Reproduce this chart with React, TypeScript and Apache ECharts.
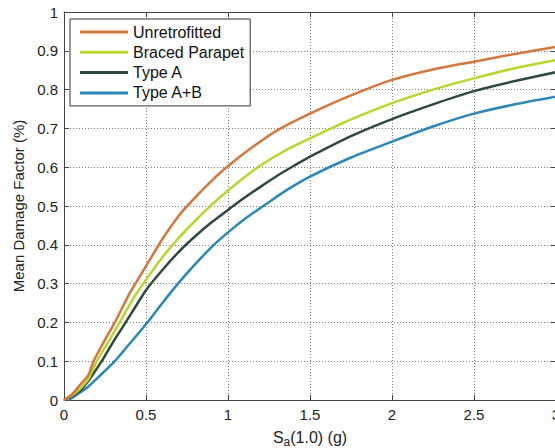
import React, { useEffect, useRef } from "react";
import * as echarts from "echarts";

const seriesNames = ["Unretrofitted", "Braced Parapet", "Type A", "Type A+B"];
const seriesColors = ["#D4773C", "#B8D62C", "#2C4A3E", "#2A88B8"];

const unretrofitted: [number, number][] = [
  [0, 0], [0.05, 0.015], [0.1, 0.04], [0.15, 0.065], [0.18, 0.1], [0.25, 0.155],
  [0.31, 0.2], [0.4, 0.275], [0.5, 0.345], [0.6, 0.415], [0.7, 0.475], [0.8, 0.522],
  [0.9, 0.565], [1.0, 0.603], [1.15, 0.652], [1.3, 0.695], [1.5, 0.738], [1.75, 0.785],
  [2.0, 0.825], [2.25, 0.852], [2.5, 0.872], [2.75, 0.892], [3.0, 0.91],
];
const bracedParapet: [number, number][] = [
  [0, 0], [0.05, 0.012], [0.1, 0.03], [0.15, 0.055], [0.2, 0.1], [0.27, 0.15],
  [0.34, 0.2], [0.42, 0.26], [0.5, 0.31], [0.6, 0.368], [0.7, 0.418], [0.8, 0.462],
  [0.9, 0.503], [1.0, 0.54], [1.175, 0.598], [1.35, 0.643], [1.5, 0.674], [1.75, 0.723],
  [2.0, 0.765], [2.25, 0.8], [2.5, 0.829], [2.75, 0.855], [3.0, 0.876],
];
const typeA: [number, number][] = [
  [0, 0], [0.05, 0.01], [0.1, 0.025], [0.15, 0.05], [0.23, 0.1], [0.3, 0.15],
  [0.376, 0.2], [0.5, 0.283], [0.6, 0.335], [0.7, 0.382], [0.8, 0.422], [0.9, 0.458],
  [1.0, 0.49], [1.1, 0.521], [1.2, 0.55], [1.3, 0.578], [1.4, 0.603], [1.5, 0.627],
  [1.75, 0.68], [2.0, 0.724], [2.25, 0.762], [2.5, 0.796], [2.75, 0.822], [3.0, 0.845],
];
const typeAB: [number, number][] = [
  [0.03, 0], [0.1, 0.02], [0.15, 0.035], [0.2, 0.055], [0.31, 0.1], [0.4, 0.145],
  [0.5, 0.195], [0.6, 0.25], [0.695, 0.3], [0.8, 0.35], [0.909, 0.398], [1.0, 0.432],
  [1.1, 0.466], [1.226, 0.503], [1.35, 0.539], [1.5, 0.576], [1.75, 0.625], [2.0, 0.666],
  [2.25, 0.705], [2.5, 0.738], [2.75, 0.762], [3.0, 0.782],
];
const allData = [unretrofitted, bracedParapet, typeA, typeAB];

const xMin = 0, xMax = 3, xStep = 0.5;
const yMin = 0, yMax = 1, yStep = 0.1;

const FONT = "'Liberation Sans', Arial, Helvetica, sans-serif";
const TEXT = "#222";
const AXIS = "#444";

export default function App() {
  const ref = useRef<HTMLDivElement>(null);
  useEffect(() => {
    if (!ref.current) return;
    const chart = echarts.init(ref.current, undefined, { renderer: "svg" });
    const gridLine = { show: true, lineStyle: { color: "#7a7a7a", type: [1, 2] as any, width: 1 } };
    const tick = { show: true, inside: true, length: 5, lineStyle: { color: AXIS } };
    const line = { show: true, onZero: false, lineStyle: { color: AXIS, width: 1 } };
    chart.setOption({
      animation: false,
      backgroundColor: "#fff",
      textStyle: { fontFamily: FONT },
      grid: {
        left: 64, top: 12, width: 492, height: 388,
        containLabel: false, outerBoundsMode: "none",
      } as any,
      legend: {
        data: seriesNames,
        orient: "vertical",
        left: 70,
        top: 19,
        icon: "rect",
        itemWidth: 48,
        itemHeight: 3,
        itemGap: 4.3,
        padding: [5, 6, 5, 10],
        backgroundColor: "#fff",
        borderColor: "#333",
        borderWidth: 1,
        borderRadius: 0,
        textStyle: { fontSize: 16, color: "#111", fontFamily: FONT, lineHeight: 16 },
      },
      xAxis: [
        {
          type: "value", min: xMin, max: xMax, interval: xStep, position: "bottom",
          axisLine: line, axisTick: tick, splitLine: gridLine,
          axisLabel: { color: TEXT, fontSize: 15, margin: 7, fontFamily: FONT },
          name: "{n|S}{sub|a}{n|(1.0) (g)}",
          nameLocation: "middle",
          nameGap: 27,
          nameTextStyle: {
            rich: {
              n: { fontSize: 16, color: TEXT, fontFamily: FONT },
              sub: { fontSize: 12, color: TEXT, fontFamily: FONT, padding: [9, 0, 0, 0] },
            },
          },
        },
        {
          type: "value", min: xMin, max: xMax, interval: xStep, position: "top",
          axisLine: line, axisTick: tick, splitLine: { show: false }, axisLabel: { show: false },
        },
      ],
      yAxis: [
        {
          type: "value", min: yMin, max: yMax, interval: yStep, position: "left",
          axisLine: line, axisTick: tick, splitLine: gridLine,
          axisLabel: { color: TEXT, fontSize: 15, margin: 6, fontFamily: FONT },
          name: "Mean Damage Factor (%)",
          nameLocation: "middle",
          nameGap: 34,
          nameTextStyle: { color: TEXT, fontSize: 15, fontFamily: FONT },
        },
        {
          type: "value", min: yMin, max: yMax, interval: yStep, position: "right",
          axisLine: line, axisTick: tick, splitLine: { show: false }, axisLabel: { show: false },
        },
      ],
      series: seriesNames.map((name, i) => ({
        name,
        type: "line",
        data: allData[i],
        xAxisIndex: 0,
        yAxisIndex: 0,
        showSymbol: false,
        symbol: "none",
        smooth: 0.2,
        clip: true,
        color: seriesColors[i],
        lineStyle: { color: seriesColors[i], width: 2.5 },
        z: 3 + (3 - i),
      })),
    });
    return () => chart.dispose();
  }, []);
  return (
    <div
      ref={ref}
      style={{ position: "absolute", left: 0, top: 0, width: 555, height: 448 }}
    />
  );
}
